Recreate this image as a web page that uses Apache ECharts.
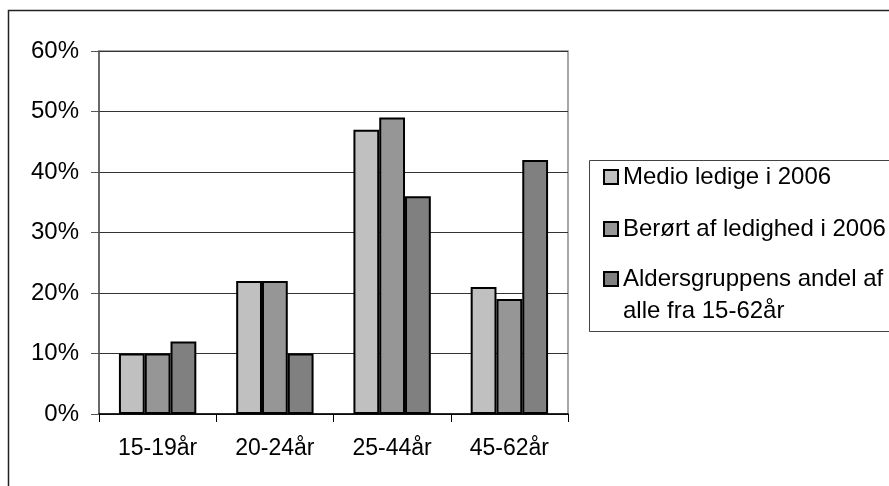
<!DOCTYPE html>
<html>
<head>
<meta charset="utf-8">
<script src="https://cdn.jsdelivr.net/npm/echarts@6/dist/echarts.min.js"></script>
<style>
  html, body { margin: 0; padding: 0; background: #fff; }
  #chart { width: 889px; height: 486px; }
</style>
</head>
<body>
<div id="chart"></div>
<script>
// Age groups along the x axis
const categories = ['15-19år', '20-24år', '25-44år', '45-62år'];

// Shares in percent per age group
const seriesNames = ['Medio ledige i 2006', 'Berørt af ledighed i 2006', 'Aldersgruppens andel af alle fra 15-62år'];
const medioLedige = [10, 22, 47, 21];
const berortLedighed = [10, 22, 49, 19];
const aldersgruppeAndel = [12, 10, 36, 42];

const yMin = 0, yMax = 60, yStep = 10;

const colors = ['#c0c0c0', '#969696', '#808080'];
const FONT = 'Liberation Sans, Arial, sans-serif';

const chart = echarts.init(document.getElementById('chart'), null, { renderer: 'canvas' });

function legendFor(name, top, extra) {
  return Object.assign({
    data: [name],
    orient: 'vertical',
    left: 603,
    top: top,
    padding: 0,
    itemWidth: 14,
    itemHeight: 14,
    icon: 'rect',
    textStyle: { fontFamily: FONT, fontSize: 24, color: '#000', lineHeight: 28 }
  }, extra || {});
}

const barSeries = [medioLedige, berortLedighed, aldersgruppeAndel].map((vals, i) => ({
  name: seriesNames[i],
  type: 'bar',
  data: vals,
  barGap: '0%',
  barCategoryGap: '34%',
  itemStyle: { color: colors[i], borderColor: '#000', borderWidth: 2 },
  emphasis: { disabled: true }
}));

chart.setOption({
  animation: false,
  backgroundColor: '#fff',
  color: colors,
  graphic: [
    { type: 'rect', shape: { x: 8.5, y: 10.5, width: 1000, height: 600 }, style: { fill: 'none', stroke: '#222', lineWidth: 1.5 }, silent: true },
    { type: 'rect', shape: { x: 589.5, y: 160.5, width: 400, height: 171 }, style: { fill: 'none', stroke: '#444', lineWidth: 1 }, silent: true }
  ],
  legend: [
    legendFor(seriesNames[0], 163),
    legendFor(seriesNames[1], 215),
    legendFor(seriesNames[2], 242, {
      // empty spacer line pushes the two text lines below the marker
      formatter: '{p|}\n{t|Aldersgruppens andel af}\n{t|alle fra 15-62år}',
      textStyle: {
        fontFamily: FONT, fontSize: 24, color: '#000',
        rich: {
          p: { lineHeight: 32, fontSize: 10 },
          t: { fontFamily: FONT, fontSize: 24, color: '#000', lineHeight: 32 }
        }
      }
    })
  ],
  grid: {
    left: 99, top: 51, right: 321, bottom: 72,
    show: true, borderColor: '#8a8a8a', borderWidth: 1.5, backgroundColor: 'transparent'
  },
  xAxis: {
    type: 'category',
    data: categories,
    axisLine: { lineStyle: { color: '#000', width: 1.5 } },
    axisTick: { show: true, length: 8, lineStyle: { color: '#000', width: 1 } },
    axisLabel: { fontFamily: FONT, fontSize: 23, color: '#000', margin: 23 }
  },
  yAxis: {
    type: 'value',
    min: yMin, max: yMax, interval: yStep,
    axisLine: { show: true, lineStyle: { color: '#555', width: 1.5 } },
    axisTick: { show: true, length: 8, lineStyle: { color: '#555', width: 1 } },
    splitLine: { lineStyle: { color: '#333', width: 1 } },
    axisLabel: { fontFamily: FONT, fontSize: 24, color: '#000', margin: 20, formatter: '{value}%' }
  },
  series: barSeries
});
</script>
</body>
</html>
